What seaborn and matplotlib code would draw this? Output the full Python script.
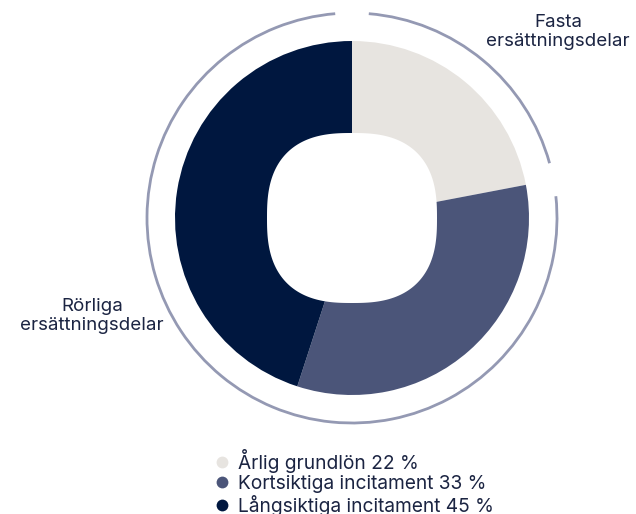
import numpy as np
import matplotlib
matplotlib.use("Agg")
import matplotlib.pyplot as plt
from matplotlib.patches import Arc, Polygon
from matplotlib.lines import Line2D
import seaborn as sns

# --- data ---
components = ["Årlig grundlön", "Kortsiktiga incitament", "Långsiktiga incitament"]
shares = [22, 33, 45]
colors = ["#e7e4e0", "#4b5579", "#00173f"]
group_labels = ["Fasta\nersättningsdelar", "Rörliga\nersättningsdelar"]

sns.set_theme(style="white")
plt.rcParams["font.family"] = ["Inter", "DejaVu Sans"]
text_color = "#1b2442"
ring_color = "#9499b3"

fig = plt.figure(figsize=(6.36, 5.14), dpi=100)
ax = fig.add_axes([0, 0, 1, 1])

cx, cy, r = 352, 296, 177

# --- donut ---
wedges, _ = ax.pie(shares, colors=colors, startangle=90, counterclock=False,
                   center=(cx, cy), radius=r, frame=True,
                   wedgeprops=dict(linewidth=0))
ax.set_xlim(0, 636)
ax.set_ylim(0, 514)
ax.set_aspect("equal")
ax.axis("off")

# rounded-square hole (superellipse)
t = np.linspace(0, 2 * np.pi, 400)
n, a = 2.6, 85
hx = cx + a * np.sign(np.cos(t)) * np.abs(np.cos(t)) ** (2 / n)
hy = cy + a * np.sign(np.sin(t)) * np.abs(np.sin(t)) ** (2 / n)
ax.add_patch(Polygon(np.column_stack([hx, hy]), closed=True, fc="white", ec="none", zorder=3))

# --- outer group arcs ---
gap = 4.7
boundary = 90 - 360 * shares[0] / 100
R = 205
ax.add_patch(Arc((cx, cy), 2 * R, 2 * R, theta1=boundary + gap, theta2=90 - gap,
                 color=ring_color, lw=2))
ax.add_patch(Arc((cx, cy), 2 * R, 2 * R, theta1=90 + gap, theta2=360 + boundary - gap,
                 color=ring_color, lw=2))

ax.text(558, 482, group_labels[0], ha="center", va="center", fontsize=13.5,
        color=text_color, linespacing=1.2)
ax.text(92, 198, group_labels[1], ha="center", va="center", fontsize=13.5,
        color=text_color, linespacing=1.2)

# --- legend ---
handles = [Line2D([], [], marker="o", ls="none", markersize=8.5, markerfacecolor=c,
                  markeredgecolor="none") for c in colors]
labels = [f"{name} {v} %" for name, v in zip(components, shares)]
ax.legend(handles, labels, loc="upper left", bbox_to_anchor=(214 / 636, 1 - 449 / 514),
          frameon=False, fontsize=13.8, labelcolor=text_color, handletextpad=0.43,
          handlelength=0.8, labelspacing=0.1, borderpad=0, borderaxespad=0)

fig.savefig("out.png", dpi=100)
